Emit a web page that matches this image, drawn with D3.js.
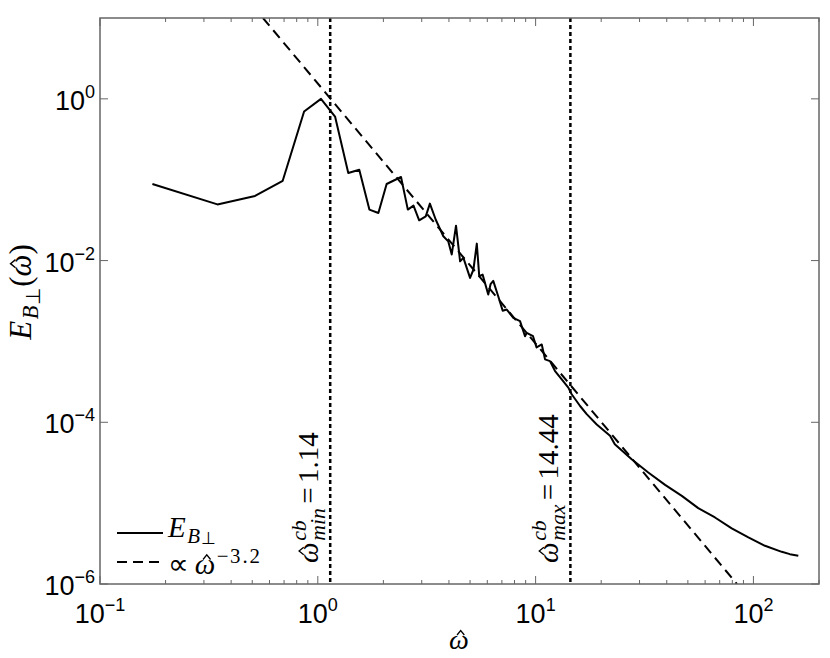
<!DOCTYPE html>
<html>
<head>
<meta charset="utf-8">
<script src="https://cdn.jsdelivr.net/npm/d3@7"></script>
<style>
  body { margin: 0; background: #fff; }
  svg { display: block; }
</style>
</head>
<body>
<div id="chart"></div>
<script>
// spectrum
var omega = [0.174, 0.346, 0.515, 0.69, 0.865, 1.034, 1.2, 1.38, 1.55, 1.725, 1.897, 2.07, 2.41, 2.59,
  2.75, 2.92, 3.13, 3.27, 3.48, 3.77, 3.97, 4.12, 4.31, 4.5, 4.66, 5.0, 5.18, 5.37, 5.51, 5.71,
  6.06, 6.21, 6.39, 6.74, 7.06, 7.37, 7.9, 8.48, 8.94, 9.1, 9.73, 10.1, 10.67, 11.05, 11.64,
  12.28, 13.18, 14.13, 14.64, 16.0, 17.16, 19.08, 21.96, 23.1, 27.6, 32.9, 39.3, 46.9, 55.8, 66.6,
  79.5, 94.8, 113, 134.9, 147, 160.7];
var energy = [0.0885, 0.0495, 0.063, 0.097, 0.697, 1.0, 0.605, 0.121, 0.133, 0.0427, 0.0388, 0.0885, 0.108, 0.0427,
  0.0478, 0.0315, 0.0352, 0.0506, 0.032, 0.02, 0.0173, 0.0119, 0.027, 0.0098, 0.0108, 0.0061, 0.0077, 0.0162, 0.0064, 0.0067,
  0.0038, 0.0051, 0.0056, 0.0036, 0.0024, 0.00248, 0.00196, 0.00178, 0.00116, 0.00128, 0.00116, 0.000843, 0.000918, 0.0006, 0.000571,
  0.00043, 0.00034, 0.000268, 0.000222, 0.000159, 0.000126, 0.000094, 0.000068, 0.0000535, 0.0000349, 0.0000239, 0.0000168, 0.0000123, 0.00000867, 0.00000665,
  0.00000487, 0.00000377, 0.00000297, 0.0000025, 0.00000234, 0.00000224];

// power law fit ends (clipped by the frame)
var fitOmega = [0.56, 84];
var fitE = [10, 1e-6];

var cutoffs = [1.14, 14.44];
var cutoffNames = ["min", "max"];

var xMajor = [0.1, 1, 10, 100];
var xExp = ["\u22121", "0", "1", "2"];
var xMinor = [0.2, 0.3, 0.4, 0.5, 0.6, 0.7, 0.8, 0.9, 2, 3, 4, 5, 6, 7, 8, 9,
  20, 30, 40, 50, 60, 70, 80, 90, 200];
var yMajor = [1, 1e-2, 1e-4, 1e-6];
var yExp = ["0", "\u22122", "\u22124", "\u22126"];

var W = 830, H = 658;
var L = 100, R = 819, T = 18, B = 584;
var serif = "'Liberation Serif', 'Times New Roman', serif";
var sans = "'Liberation Sans', Arial, sans-serif";
var axisCol = "#666";

var svg = d3.select("#chart").append("svg").attr("width", W).attr("height", H);

var x = d3.scaleLog().domain([0.1, 200]).range([L, R]);
var y = d3.scaleLog().domain([1e-6, 10]).range([B, T]);

svg.append("defs").append("clipPath").attr("id", "clip")
  .append("rect").attr("x", L).attr("y", T).attr("width", R - L).attr("height", B - T);

// ticks, inward on all four sides
var tickG = svg.append("g").attr("stroke", axisCol).attr("stroke-width", 1);
function vTicks(vals, len) {
  vals.forEach(function(v){
    tickG.append("line").attr("x1", x(v)).attr("x2", x(v)).attr("y1", B).attr("y2", B - len);
    tickG.append("line").attr("x1", x(v)).attr("x2", x(v)).attr("y1", T).attr("y2", T + len);
  });
}
vTicks(xMajor, 8);
vTicks(xMinor, 4);
yMajor.forEach(function(v){
  tickG.append("line").attr("x1", L).attr("x2", L + 8).attr("y1", y(v)).attr("y2", y(v));
  tickG.append("line").attr("x1", R).attr("x2", R - 8).attr("y1", y(v)).attr("y2", y(v));
});

// tick labels
xMajor.forEach(function(v, i){
  var t = svg.append("text").attr("x", x(v)).attr("y", B + 39)
    .attr("text-anchor", "middle").style("font-family", sans).style("font-size", "27px");
  t.append("tspan").text("10");
  t.append("tspan").attr("dy", -12).style("font-size", "18px").text(xExp[i]);
});
yMajor.forEach(function(v, i){
  var t = svg.append("text").attr("x", 95).attr("y", y(v) + 11)
    .attr("text-anchor", "end").style("font-family", sans).style("font-size", "27px");
  t.append("tspan").text("10");
  t.append("tspan").attr("dy", -12).style("font-size", "18px").text(yExp[i]);
});

var plot = svg.append("g").attr("clip-path", "url(#clip)");

// cutoff lines
cutoffs.forEach(function(c){
  plot.append("line").attr("x1", x(c)).attr("x2", x(c)).attr("y1", T).attr("y2", B)
    .attr("stroke", "#000").attr("stroke-width", 2.5).attr("stroke-dasharray", "4,3");
});

var line = d3.line().x(function(d){ return x(d[0]); }).y(function(d){ return y(d[1]); });

plot.append("path").datum(fitOmega.map(function(o, i){ return [o, fitE[i]]; }))
  .attr("d", line).attr("fill", "none").attr("stroke", "#000")
  .attr("stroke-width", 2).attr("stroke-dasharray", "10,6");

plot.append("path").datum(omega.map(function(o, i){ return [o, energy[i]]; }))
  .attr("d", line).attr("fill", "none").attr("stroke", "#000")
  .attr("stroke-width", 2).attr("stroke-linejoin", "round");

// frame
svg.append("rect").attr("x", L).attr("y", T).attr("width", R - L).attr("height", B - T)
  .attr("fill", "none").attr("stroke", axisCol).attr("stroke-width", 1.5);

// little typesetter: pieces laid out left to right, "stack" puts a piece under the previous one
function mathRow(g, pieces, size) {
  var cx = 0, lastStart = 0;
  pieces.forEach(function(p){
    var fs = size * (p.scale || 1);
    var start = p.stack ? lastStart : cx + (p.gap || 0) * size;
    var by = p.dy || 0;
    var t = g.append("text").attr("x", start).attr("y", by)
      .style("font-family", serif).style("font-size", fs + "px")
      .style("font-style", p.it ? "italic" : "normal")
      .style("letter-spacing", (p.ls || 0) + "px").text(p.t);
    var w = t.node().getComputedTextLength();
    if (p.hat) {
      var hx = start + w / 2 + fs * 0.06, hy = by - fs * 0.5;
      g.append("path")
        .attr("d", "M" + (hx - fs * 0.13) + "," + hy + "L" + hx + "," + (hy - fs * 0.16) + "L" + (hx + fs * 0.13) + "," + hy)
        .attr("fill", "none").attr("stroke", "#000").attr("stroke-width", fs * 0.045);
    }
    if (p.stack) cx = Math.max(cx, start + w);
    else { lastStart = start; cx = start + w; }
  });
  return cx;
}

// cutoff labels
cutoffs.forEach(function(c, i){
  var g = svg.append("g").attr("transform", "translate(" + (x(c) - 12) + "," + 563 + ") rotate(-90)");
  mathRow(g, [
    {t: "\u03C9", it: true, hat: true},
    {t: "cb", it: true, scale: 0.75, dy: -12, gap: 0.06},
    {t: cutoffNames[i], it: true, scale: 0.75, dy: 7, stack: true},
    {t: "=", gap: 0.15},
    {t: String(c), gap: 0.15}
  ], 29);
});

// legend
svg.append("line").attr("x1", 117).attr("x2", 163).attr("y1", 533).attr("y2", 533)
  .attr("stroke", "#000").attr("stroke-width", 2);
svg.append("line").attr("x1", 117).attr("x2", 163).attr("y1", 562).attr("y2", 562)
  .attr("stroke", "#000").attr("stroke-width", 2).attr("stroke-dasharray", "10,6");
var lg1 = svg.append("g").attr("transform", "translate(168,537)");
mathRow(lg1, [
  {t: "E", it: true},
  {t: "B", it: true, scale: 0.72, dy: 6, gap: 0.05},
  {t: "\u22A5", scale: 0.6, dy: 7, gap: 0.02}
], 29);
var lg2 = svg.append("g").attr("transform", "translate(168,574)");
mathRow(lg2, [
  {t: "\u221D"},
  {t: "\u03C9", it: true, hat: true, gap: 0.2},
  {t: "\u2212", scale: 0.72, dy: -11, gap: 0.05},
  {t: "3.2", scale: 0.72, dy: -11, gap: 0.05, ls: 2}
], 29);

// axis titles
var yl = svg.append("g");
var ylw = mathRow(yl, [
  {t: "E", it: true},
  {t: "B", it: true, scale: 0.72, dy: 7, gap: 0.05},
  {t: "\u22A5", scale: 0.65, dy: 9, gap: 0.02},
  {t: "(", gap: 0.04},
  {t: "\u03C9", it: true, hat: true},
  {t: ")"}
], 31);
yl.attr("transform", "translate(31," + (292 + ylw / 2) + ") rotate(-90)");

var xl = svg.append("g");
var xlw = mathRow(xl, [{t: "\u03C9", it: true, hat: true}], 28);
xl.attr("transform", "translate(" + (459 - xlw / 2) + ",649)");
</script>
</body>
</html>
